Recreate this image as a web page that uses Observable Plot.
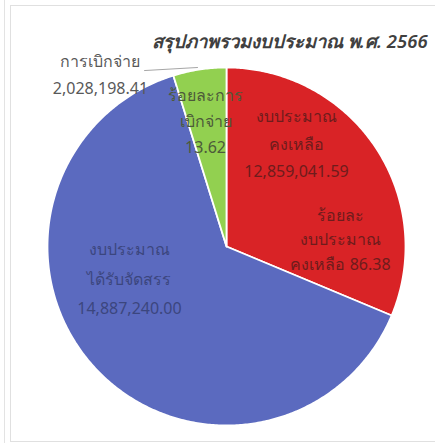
<!DOCTYPE html>
<html><head><meta charset="utf-8">
<script src="https://cdn.jsdelivr.net/npm/d3@7"></script>
<script src="https://cdn.jsdelivr.net/npm/@observablehq/plot@0.6"></script>
<style>
body{margin:0;background:#fff;}
#wrap{position:relative;width:435px;height:443px;overflow:hidden;background:#fff}
#outer{position:absolute;left:4px;top:0;width:1px;height:443px;background:#e3e3e3}
#frame{position:absolute;left:10px;top:5px;width:440px;height:437px;border:1px solid #e0e0e0;box-sizing:border-box}
#chart{position:absolute;left:0;top:0}
#title{position:absolute;left:152px;top:27px;font-family:"Noto Sans",sans-serif;font-style:italic;font-weight:600;font-size:20px;color:#404040;white-space:nowrap}
</style></head>
<body>
<div id="wrap"><div id="outer"></div><div id="frame"></div><div id="chart"></div><div id="title">สรุปภาพรวมงบประมาณ พ.ศ. 2566</div></div>
<script>
// slices, clockwise from 12 o'clock
const categories = ["งบประมาณคงเหลือ", "งบประมาณได้รับจัดสรร", "การเบิกจ่าย"];
const sliceShare = [31.3, 63.9, 4.8]; // share of the circle as drawn (%)
const amountLabels = ["12,859,041.59", "14,887,240.00", "2,028,198.41"];
const percentLabels = ["86.38", "", "13.62"];
const colors = ["#d92326", "#5b6abf", "#92d050"];

const W = 435, H = 443, CX = 226, CY = 246, R = 179;

const arcs = d3.pie().sort(null).value(d => d)(sliceShare);
const pts = [];
arcs.forEach((a, i) => {
  pts.push({x: 0, y: 0, k: categories[i]});
  const n = Math.max(2, Math.ceil((a.endAngle - a.startAngle) / 0.01));
  for (let j = 0; j <= n; j++) {
    const t = a.startAngle + (a.endAngle - a.startAngle) * j / n;
    pts.push({x: Math.sin(t), y: Math.cos(t), k: categories[i]});
  }
  pts.push({x: 0, y: 0, k: categories[i]});
});

// label blocks (layout in radius units)
const labels = [
  {x: 0.391, y: 0.59, text: "งบประมาณ\nคงเหลือ\n" + amountLabels[0], fill: "#6e1c1c", lh: 1.7},
  {x: 0.637, y: 0.05, text: "ร้อยละ\nงบประมาณ\nคงเหลือ " + percentLabels[0], fill: "#6e1c1c", lh: 1.55},
  {x: -0.117, y: 0.715, text: "ร้อยละการ\nเบิกจ่าย\n" + percentLabels[2], fill: "#4d5a3a", lh: 1.65},
  {x: -0.542, y: -0.16, text: "งบประมาณ\nได้รับจัดสรร\n" + amountLabels[1], fill: "#3b467e", lh: 1.85},
  {x: -0.704, y: 0.975, text: "การเบิกจ่าย\n" + amountLabels[2], fill: "#595959", lh: 1.65}
];
const leader = [{x: -0.458, y: 0.983}, {x: -0.162, y: 1.0}];

const chart = Plot.plot({
  width: W, height: H, margin: 0,
  style: {background: "transparent", fontFamily: "'Noto Sans', sans-serif"},
  x: {domain: [-CX / R, (W - CX) / R], axis: null},
  y: {domain: [-(H - CY) / R, CY / R], axis: null},
  color: {domain: categories, range: colors},
  marks: [
    Plot.line(pts, {x: "x", y: "y", z: "k", fill: "k", stroke: "white", strokeWidth: 1.8, strokeLinejoin: "round"}),
    Plot.line(leader, {x: "x", y: "y", stroke: "#a6a6a6", strokeWidth: 1}),
    ...labels.map(l => Plot.text([l], {x: "x", y: "y", text: "text", fill: l.fill, fontSize: 16, lineHeight: l.lh, textAnchor: "middle"}))
  ]
});
document.getElementById("chart").appendChild(chart);

// fit title into the space to the right edge
const t = document.getElementById("title");
let fs = 20;
while (t.scrollWidth > 280 && fs > 12) { fs -= 0.5; t.style.fontSize = fs + "px"; }
</script>
</body></html>
